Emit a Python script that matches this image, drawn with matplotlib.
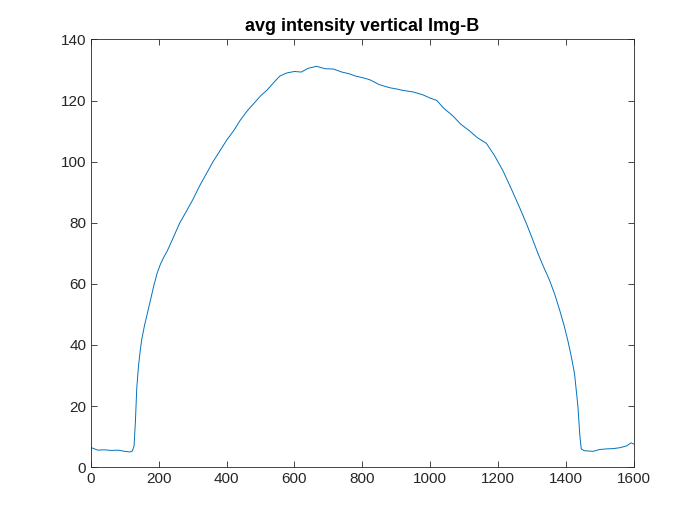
import matplotlib
matplotlib.use("Agg")
import matplotlib.pyplot as plt

# values
pixel_pos = [1, 20, 40, 60, 80, 100, 115, 122, 127, 131, 135, 140, 145, 150,
             158, 165, 175, 185, 195, 205, 215, 225, 238, 250, 262, 280, 300,
             320, 340, 360, 380, 400, 420, 440, 460, 480, 500, 520, 540, 557,
             577, 600, 620, 640, 665, 690, 715, 740, 760, 780, 800, 822, 850,
             880, 900, 920, 950, 980, 1000, 1020, 1040, 1067, 1090, 1117, 1140,
             1166, 1190, 1215, 1240, 1264, 1285, 1303, 1318, 1335, 1352, 1368,
             1382, 1395, 1406, 1416, 1426, 1436, 1442, 1446, 1455, 1470, 1480,
             1500, 1520, 1540, 1560, 1580, 1593, 1600]
avg_intensity = [6.4, 5.6, 5.7, 5.5, 5.6, 5.2, 5.0, 5.3, 7.0, 15.0, 26.0, 33.0,
                 38.0, 42.0, 46.5, 49.8, 54.5, 59.3, 63.5, 66.5, 68.8, 70.8,
                 74.0, 77.0, 80.0, 83.5, 87.5, 92.0, 96.0, 100.0, 103.5, 107.0,
                 110.0, 113.5, 116.5, 119.0, 121.5, 123.5, 126.0, 128.0, 129.0,
                 129.5, 129.3, 130.5, 131.2, 130.4, 130.3, 129.3, 128.8, 128.0,
                 127.5, 126.8, 125.2, 124.2, 123.8, 123.3, 122.8, 121.8, 120.8,
                 120.0, 117.5, 115.0, 112.3, 110.0, 107.8, 106.0, 102.0, 97.0,
                 91.0, 85.0, 79.5, 74.4, 70.0, 65.5, 61.3, 56.5, 51.5, 46.5,
                 41.6, 36.5, 30.7, 20.0, 10.0, 6.0, 5.4, 5.3, 5.2, 5.8, 6.0,
                 6.1, 6.4, 7.0, 8.0, 7.6]
x_ticks = [0, 200, 400, 600, 800, 1000, 1200, 1400, 1600]
y_ticks = [0, 20, 40, 60, 80, 100, 120, 140]

plt.rcParams['font.family'] = ['Liberation Sans', 'DejaVu Sans']

fig = plt.figure(figsize=(7, 5.25), dpi=100)
ax = fig.add_axes([0.13, 0.11, 0.775, 0.815])
ax.plot(pixel_pos, avg_intensity, color='#0072BD', linewidth=0.7)

ax.set_xlim(0, 1600)
ax.set_ylim(0, 140)
ax.set_xticks(x_ticks)
ax.set_yticks(y_ticks)
ax.tick_params(direction='in', top=True, right=True, labelsize=11,
               colors='#262626', length=4, width=0.6)
for s in ax.spines.values():
    s.set_linewidth(0.6)
    s.set_color('#262626')
ax.set_title('avg intensity vertical Img-B', fontsize=13, fontweight='bold',
             color='black', pad=6)

fig.savefig('out.png', dpi=100)
